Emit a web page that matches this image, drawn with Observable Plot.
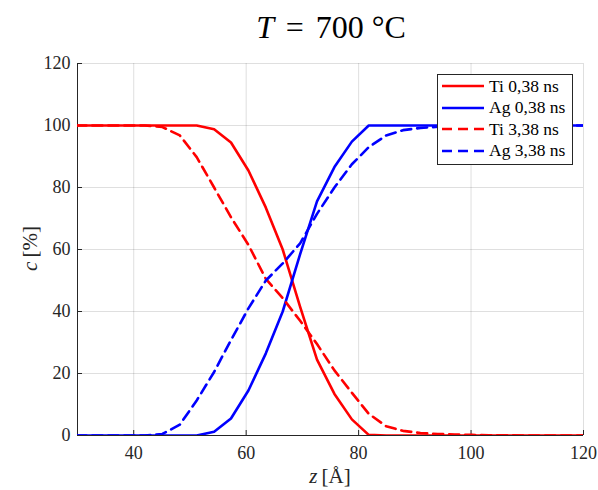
<!DOCTYPE html>
<html><head><meta charset="utf-8">
<script src="https://cdn.jsdelivr.net/npm/d3@7"></script>
<script src="https://cdn.jsdelivr.net/npm/@observablehq/plot@0.6"></script>
<style>
body{margin:0;background:#fff;font-family:"Liberation Serif",serif;}
#wrap{position:relative;width:598px;height:490px;overflow:hidden;}
#wrap svg{position:absolute;left:0;top:0;}
.title{position:absolute;left:0;width:662px;top:9px;text-align:center;font-size:32px;color:#000;white-space:nowrap;}
.title .op{margin:0 0.12em;}
.xlab{position:absolute;left:230px;width:200px;top:464px;text-align:center;font-size:21px;color:#262626;white-space:nowrap;}
.ylab{position:absolute;left:-70px;width:200px;top:236px;text-align:center;font-size:21px;color:#262626;white-space:nowrap;transform:rotate(-90deg);}
.legend{position:absolute;left:437px;top:74px;width:134px;height:89px;border:1px solid #262626;background:#fff;font-size:17.5px;color:#000;}
.legend .row{position:absolute;left:4px;height:20px;display:flex;align-items:center;white-space:nowrap;}
.legend .row span{margin-left:5px;}
</style></head><body><div id="wrap"></div><script>
const z = [29.8, 32.8, 35.9, 39.0, 42.0, 45.1, 48.2, 51.2, 54.3, 57.3, 60.4, 63.5, 66.5, 69.6, 72.6, 75.7, 78.8, 81.8, 84.9, 87.9, 91.0, 94.1, 97.1, 100.2, 103.2, 106.3, 109.4, 112.4, 115.5, 118.5, 121.6];
const ti038 = [100, 100, 100, 100, 100, 100, 100, 100, 98.8, 94.5, 85.5, 73.5, 60, 41.5, 24.5, 13.4, 5.2, 0.2, 0, 0, 0, 0, 0, 0, 0, 0, 0, 0, 0, 0, 0];
const ag038 = [0, 0, 0, 0, 0, 0, 0, 0, 1.2, 5.5, 14.5, 26.5, 40, 58.5, 75.5, 86.6, 94.8, 100, 100, 100, 100, 100, 100, 100, 100, 100, 100, 100, 100, 100, 100];
const ti338 = [100, 100, 100, 100, 100, 99.5, 96.8, 89.8, 80, 70.4, 61.5, 50.5, 44.3, 37, 29.5, 21, 13.8, 7, 3, 1.5, 0.8, 0.5, 0.3, 0.2, 0.1, 0.1, 0, 0, 0, 0, 0];
const ag338 = [0, 0, 0, 0, 0, 0.5, 3.5, 11.3, 20.5, 30.8, 41, 50, 55.5, 62, 71.5, 80, 87.5, 93, 96.8, 98.5, 99.2, 99.6, 99.8, 99.9, 100, 100, 100, 100, 100, 100, 100];
const seriesNames = ["Ti 0,38 ns", "Ag 0,38 ns", "Ti 3,38 ns", "Ag 3,38 ns"];
const xTicks = [40, 60, 80, 100, 120];
const yTicks = [0, 20, 40, 60, 80, 100, 120];

const seriesValues = [ti038, ag038, ti338, ag338];
const seriesColors = ["#ff0000", "#0000ff", "#ff0000", "#0000ff"];
const seriesDash = [null, null, "10,6", "10,6"];

const lineMarks = seriesValues.map((vals, i) =>
  Plot.line(z.map((zz, j) => ({z: zz, c: vals[j]})), {
    x: "z", y: "c", stroke: seriesColors[i], strokeWidth: 2.6,
    strokeDasharray: seriesDash[i], strokeLinejoin: "round", clip: true
  })
);

const chart = Plot.plot({
  width: 598, height: 490,
  marginTop: 63, marginBottom: 55, marginLeft: 77, marginRight: 15,
  style: {fontFamily: "Liberation Serif", fontSize: "18px", color: "#262626", background: "transparent", overflow: "visible"},
  x: {domain: [30, 120]},
  y: {domain: [0, 120]},
  marks: [
    Plot.gridX(xTicks, {stroke: "#262626", strokeOpacity: 0.15}),
    Plot.gridY(yTicks, {stroke: "#262626", strokeOpacity: 0.15}),
    Plot.axisX(xTicks, {tickSize: -5, tickPadding: 16, label: null, stroke: "#262626", fill: "#262626"}),
    Plot.axisY(yTicks, {tickSize: -5, tickPadding: 12, label: null, stroke: "#262626", fill: "#262626"}),
    Plot.ruleY([0], {stroke: "#262626"}),
    Plot.ruleX([30], {stroke: "#262626"}),
    ...lineMarks
  ]
});

const wrap = document.getElementById("wrap");
wrap.appendChild(chart);

const title = document.createElement("div");
title.className = "title";
title.innerHTML = "<i>T</i>&nbsp;<span class='op'>=</span>&nbsp;700&nbsp;°C";
wrap.appendChild(title);

const xl = document.createElement("div");
xl.className = "xlab";
xl.innerHTML = "<i>z</i>&thinsp;[Å]";
wrap.appendChild(xl);

const yl = document.createElement("div");
yl.className = "ylab";
yl.innerHTML = "<i>c</i>&thinsp;[%]";
wrap.appendChild(yl);

const lg = document.createElement("div");
lg.className = "legend";
seriesNames.forEach((name, i) => {
  const row = document.createElement("div");
  row.className = "row";
  row.style.top = (1 + i * 21.5) + "px";
  const dash = seriesDash[i] ? `stroke-dasharray="10,6"` : "";
  row.innerHTML = `<svg width="42" height="20" style="position:static"><line x1="0" y1="10" x2="42" y2="10" stroke="${seriesColors[i]}" stroke-width="2.6" ${dash}/></svg><span>${name}</span>`;
  lg.appendChild(row);
});
wrap.appendChild(lg);
</script></body></html>
